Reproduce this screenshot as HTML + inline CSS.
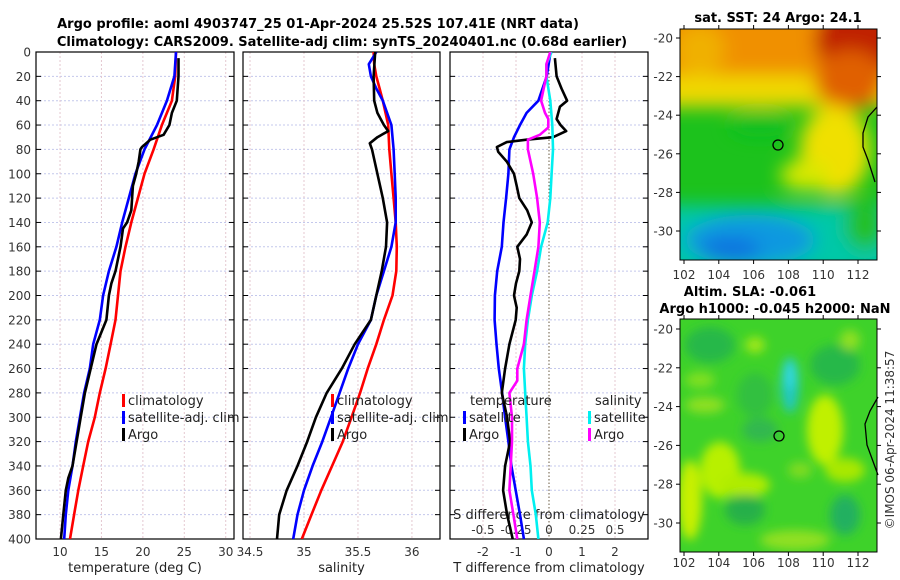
<!DOCTYPE html>
<html><head><meta charset="utf-8"><style>
body{margin:0;background:#fff;}
svg{display:block;font-family:"DejaVu Sans","Liberation Sans",sans-serif;}
.tk{font-size:12px;fill:#333;}
.tt{font-size:13px;font-weight:bold;fill:#000;}
.lg{font-size:13px;fill:#222;}
</style></head><body>
<svg id="chart" width="900" height="580" viewBox="0 0 900 580" xmlns="http://www.w3.org/2000/svg">
<defs>
<clipPath id="c1"><rect x="36" y="52" width="198" height="487"/></clipPath>
<clipPath id="c2"><rect x="243" y="52" width="197" height="487"/></clipPath>
<clipPath id="c3"><rect x="450" y="52" width="198" height="487"/></clipPath>
<clipPath id="m1"><rect x="680" y="29" width="197" height="231"/></clipPath>
<clipPath id="m2"><rect x="680" y="319" width="197" height="233"/></clipPath>
<filter id="bl" x="-50%" y="-50%" width="200%" height="200%"><feGaussianBlur stdDeviation="9"/></filter>
<filter id="bl2" x="-50%" y="-50%" width="200%" height="200%"><feGaussianBlur stdDeviation="5"/></filter>
</defs>
<text class="tt" x="318" y="28" text-anchor="middle">Argo profile: aoml 4903747_25 01-Apr-2024 25.52S 107.41E (NRT data)</text>
<text class="tt" x="342" y="46" text-anchor="middle">Climatology: CARS2009. Satellite-adj clim: synTS_20240401.nc (0.68d earlier)</text>
<g id="panels"></g>

<!-- Map 1: SST -->
<g>
<g clip-path="url(#m1)">
<rect x="680" y="29" width="197" height="231" fill="#1cc21c"/>
<g filter="url(#bl)">
<rect x="660" y="10" width="240" height="70" fill="#f09000"/>
<rect x="660" y="75" width="240" height="32" fill="#f0d800"/>
<ellipse cx="700" cy="50" rx="25" ry="25" fill="#f0b000"/>
<ellipse cx="860" cy="40" rx="45" ry="40" fill="#c02000"/>
<ellipse cx="850" cy="80" rx="35" ry="30" fill="#e06000"/>
<ellipse cx="835" cy="150" rx="35" ry="45" fill="#f0e000"/>
<ellipse cx="805" cy="175" rx="25" ry="15" fill="#d8e800"/>
<ellipse cx="760" cy="125" rx="30" ry="12" fill="#10c020"/>
<rect x="660" y="205" width="240" height="70" fill="#00c8a8"/>
<ellipse cx="750" cy="240" rx="65" ry="25" fill="#1098e0"/>
<ellipse cx="730" cy="250" rx="30" ry="12" fill="#1070e0"/>
<ellipse cx="865" cy="225" rx="20" ry="25" fill="#20c020"/>
</g>
</g>
<rect x="680" y="29" width="197" height="231" fill="none" stroke="#000" stroke-width="1"/>
<path d="M877,107 L868,117 L863,133 L863,147 L868,160 L875,182" fill="none" stroke="#000" stroke-width="1.3"/>
<circle cx="778" cy="145" r="5" fill="none" stroke="#000" stroke-width="1.3"/>
<text class="tt" x="778" y="22" text-anchor="middle">sat. SST: 24 Argo: 24.1</text>
<g id="map1axes"></g>
</g>

<!-- Map 2: SLA -->
<g>
<g clip-path="url(#m2)">
<rect x="680" y="319" width="197" height="233" fill="#3ed22a"/>
<g filter="url(#bl2)">
<ellipse cx="710" cy="345" rx="25" ry="18" fill="#28b848"/>
<ellipse cx="755" cy="395" rx="18" ry="22" fill="#30c040"/>
<ellipse cx="790" cy="385" rx="9" ry="28" fill="#20c8c0"/>
<ellipse cx="790" cy="375" rx="6" ry="14" fill="#30d8e0"/>
<ellipse cx="835" cy="365" rx="25" ry="20" fill="#28b848"/>
<ellipse cx="755" cy="345" rx="10" ry="8" fill="#a0e818"/>
<ellipse cx="705" cy="405" rx="20" ry="8" fill="#90e020"/>
<ellipse cx="720" cy="470" rx="20" ry="28" fill="#b8f000"/>
<ellipse cx="745" cy="485" rx="25" ry="12" fill="#b0ec00"/>
<ellipse cx="690" cy="500" rx="12" ry="40" fill="#c8f000"/>
<ellipse cx="745" cy="510" rx="20" ry="15" fill="#28b048"/>
<ellipse cx="825" cy="430" rx="18" ry="35" fill="#c0f000"/>
<ellipse cx="845" cy="470" rx="20" ry="12" fill="#a8e800"/>
<ellipse cx="845" cy="515" rx="15" ry="20" fill="#20b060"/>
<ellipse cx="795" cy="540" rx="35" ry="10" fill="#90e020"/>
<ellipse cx="760" cy="430" rx="18" ry="12" fill="#30b850"/>
<ellipse cx="850" cy="340" rx="10" ry="10" fill="#90e020"/>
<ellipse cx="700" cy="380" rx="15" ry="8" fill="#80e020"/>
<ellipse cx="800" cy="470" rx="12" ry="8" fill="#80dc20"/>
</g>
</g>
<rect x="680" y="319" width="197" height="233" fill="none" stroke="#000" stroke-width="1"/>
<path d="M878,397 L870,411 L865,424 L867,445 L878,475" fill="none" stroke="#000" stroke-width="1.3"/>
<circle cx="779" cy="436" r="5" fill="none" stroke="#000" stroke-width="1.3"/>
<text class="tt" x="750" y="296" text-anchor="middle">Altim. SLA: -0.061</text>
<text class="tt" x="775" y="313" text-anchor="middle">Argo h1000: -0.045 h2000: NaN</text>
<g id="map2axes"></g>
</g>
<text class="tk" transform="translate(894,440) rotate(-90)" text-anchor="middle">©IMOS 06-Apr-2024 11:38:57</text>
</svg>
<script>
// ---- data (depth in m) ----
const depthTC=[0,20,40,60,80,100,120,140,160,180,200,220,240,260,280,300,320,340,360,380,400];
const tempClim=[24.0,23.9,23.5,22.3,21.3,20.2,19.4,18.6,17.9,17.3,17.0,16.7,16.1,15.5,14.8,14.2,13.4,12.8,12.2,11.7,11.2];
const tempSat=[24.0,23.8,22.9,21.7,20.2,19.1,18.3,17.5,16.8,15.9,15.2,14.8,14.0,13.6,12.9,12.4,11.9,11.5,11.0,10.7,10.5];
const depthTA=[5,20,40,50,60,68,72,78,80,90,100,110,120,130,140,145,160,180,190,200,220,240,260,280,300,320,340,350,360,380,400];
const tempArgo=[24.3,24.3,24.1,23.5,23.2,22.5,20.9,19.9,19.7,19.5,19.2,18.8,18.7,18.6,18.1,17.6,17.3,16.7,16.2,15.9,15.6,14.4,13.7,13.0,12.5,12.0,11.5,11.0,10.7,10.4,10.1];
const depthS=[0,10,20,30,40,60,80,100,120,140,160,180,200,220,240,260,280,300,320,340,360,380,400];
const salClim=[35.645,35.65,35.67,35.70,35.73,35.78,35.79,35.81,35.83,35.85,35.86,35.855,35.82,35.74,35.67,35.59,35.52,35.44,35.36,35.26,35.16,35.07,34.98];
const salSat=[35.67,35.60,35.62,35.67,35.73,35.81,35.83,35.84,35.85,35.85,35.81,35.74,35.67,35.62,35.50,35.41,35.33,35.25,35.17,35.08,35.0,34.94,34.9];
const depthSA=[0,20,40,50,60,65,70,75,80,100,120,140,160,180,200,220,240,260,280,300,320,340,360,380,400];
const salArgo=[35.66,35.645,35.65,35.68,35.74,35.78,35.68,35.61,35.63,35.68,35.73,35.77,35.76,35.72,35.67,35.62,35.47,35.35,35.21,35.11,35.03,34.94,34.84,34.77,34.75];
const depthD=[0,20,40,50,60,70,80,100,120,140,160,180,200,220,240,260,280,300,320,340,360,380,400];
const dTSat=[0.05,-0.07,-0.32,-0.68,-0.88,-1.06,-1.2,-1.23,-1.3,-1.38,-1.43,-1.57,-1.64,-1.65,-1.59,-1.52,-1.42,-1.33,-1.23,-1.14,-1.01,-0.88,-0.76];
const depthDA=[5,20,30,40,45,55,60,65,70,72,74,78,82,90,100,110,120,130,140,150,160,170,180,190,200,210,220,240,260,280,300,320,340,360,380,400];
const dTArgo=[0.18,0.23,0.38,0.55,0.33,0.23,0.35,0.52,0.12,-0.68,-1.28,-1.58,-1.54,-1.28,-1.06,-0.98,-0.9,-0.66,-0.52,-0.68,-0.96,-0.88,-0.9,-1.0,-1.06,-0.98,-1.01,-1.2,-1.33,-1.43,-1.27,-1.18,-1.33,-1.39,-1.27,-1.1];
const depthDS=[0,10,20,40,60,80,100,120,140,160,180,200,220,240,260,280,300,320,340,360,380,400];
const dSSat=[0.02,-0.02,-0.02,0.01,0.025,0.03,0.02,0.01,-0.01,-0.06,-0.09,-0.13,-0.16,-0.18,-0.19,-0.18,-0.17,-0.16,-0.14,-0.13,-0.10,-0.08];
const depthDSA=[0,10,20,30,40,50,55,62,68,72,80,100,120,140,160,180,200,220,240,260,270,280,300,320,340,360,380,400];
const dSArgo=[0.01,-0.02,-0.02,-0.04,-0.06,-0.03,-0.005,-0.005,-0.07,-0.16,-0.16,-0.12,-0.09,-0.07,-0.08,-0.11,-0.14,-0.17,-0.19,-0.24,-0.24,-0.30,-0.28,-0.28,-0.29,-0.30,-0.27,-0.24];
const depthTicks=[0,20,40,60,80,100,120,140,160,180,200,220,240,260,280,300,320,340,360,380,400];
const tempTicks=[10,15,20,25,30];
const salTicks=[34.5,35,35.5,36];
const dTTicks=[-2,-1,0,1,2];
const dSTicks=[-0.5,-0.25,0,0.25,0.5];
const lonTicks=[102,104,106,108,110,112];
const latTicks=[-20,-22,-24,-26,-28,-30];

const NS='http://www.w3.org/2000/svg';
function mk(tag,attrs,parent){const e=document.createElementNS(NS,tag);for(const k in attrs)e.setAttribute(k,attrs[k]);parent.appendChild(e);return e;}
const Y=d=>52+d*487/400;
const root=document.getElementById('panels');
const panels=[
 {name:'temperature-panel',x0:36,x1:234,vmin:7.1,vmax:31.0,ticks:tempTicks,clip:'c1',title:'temperature (deg C)'},
 {name:'salinity-panel',x0:243,x1:440,vmin:34.435,vmax:36.26,ticks:salTicks,clip:'c2',title:'salinity'},
 {name:'difference-panel',x0:450,x1:648,vmin:-3,vmax:3,ticks:dTTicks,clip:'c3',title:'T difference from climatology'}
];
panels.forEach((p,i)=>{
 p.X=v=>p.x0+(v-p.vmin)/(p.vmax-p.vmin)*(p.x1-p.x0);
 const g=mk('g',{},root);
 
 
 p.g=g;
 depthTicks.forEach(d=>{
  const l=mk('line',{x1:p.x0,x2:p.x1,y1:Y(d),y2:Y(d),stroke:'#c4c8ec','stroke-width':1,'stroke-dasharray':'2,2'},g);
  
  
  mk('line',{x1:p.x0,x2:p.x0+5,y1:Y(d),y2:Y(d),stroke:'#000'},g);
  mk('line',{x1:p.x1-5,x2:p.x1,y1:Y(d),y2:Y(d),stroke:'#000'},g);
 });
 p.ticks.forEach(v=>{
  const x=p.X(v);
  if(!(i==2&&v==0)){
   const l=mk('line',{x1:x,x2:x,y1:52,y2:539,stroke:'#e4c8d0','stroke-width':1,'stroke-dasharray':'2,2'},g);
   
   
  }
  const t=mk('text',{x:x,y:556,'text-anchor':'middle',class:'tk'},g);
  t.textContent=v;
  
  
 });
 mk('rect',{x:p.x0,y:52,width:p.x1-p.x0,height:487,fill:'none',stroke:'#000','stroke-width':1.2},g);
 const at=mk('text',{x:(p.x0+p.x1)/2,y:572,'text-anchor':'middle',class:'lg'},g);
 at.textContent=p.title;
 
 
});
depthTicks.forEach(d=>{
 const t=mk('text',{x:31,y:Y(d)+4.5,'text-anchor':'end',class:'tk'},root);
 t.textContent=d;
 
 
});
const zl=mk('line',{x1:panels[2].X(0),x2:panels[2].X(0),y1:52,y2:539,stroke:'#6a5a40','stroke-width':1,'stroke-dasharray':'1.5,2'},panels[2].g);


const XS=v=>panels[2].X(v*4);
dSTicks.forEach(v=>{
 const t=mk('text',{x:XS(v),y:534,'text-anchor':'middle',class:'tk'},panels[2].g);
 t.textContent=v;
 
 
});
const sdt=mk('text',{x:549,y:519,'text-anchor':'middle',class:'lg'},panels[2].g);
sdt.textContent='S difference from climatology';



function line(p,X,vals,deps,color,name){
 const pts=vals.map((v,k)=>X(v).toFixed(1)+','+Y(deps[k]).toFixed(1)).join(' ');
 const el=mk('polyline',{points:pts,fill:'none',stroke:color,'stroke-width':2.6,'stroke-linejoin':'round','clip-path':'url(#'+p.clip+')'},p.g);
 
 
}
const P1=panels[0],P2=panels[1],P3=panels[2];
line(P1,P1.X,tempClim,depthTC,'#f00','temp-climatology-line');
line(P1,P1.X,tempSat,depthTC,'#00f','temp-satellite-line');
line(P1,P1.X,tempArgo,depthTA,'#000','temp-argo-line');
line(P2,P2.X,salClim,depthS,'#f00','sal-climatology-line');
line(P2,P2.X,salSat,depthS,'#00f','sal-satellite-line');
line(P2,P2.X,salArgo,depthSA,'#000','sal-argo-line');
line(P3,P3.X,dTSat,depthD,'#00f','dT-satellite-line');
line(P3,P3.X,dTArgo,depthDA,'#000','dT-argo-line');
line(P3,XS,dSSat,depthDS,'#00f0f0','dS-satellite-line');
line(P3,XS,dSArgo,depthDSA,'#f0f','dS-argo-line');

function legend(g,x,y,color,label){
 const m=mk('rect',{x:x,y:y-11,width:3,height:13,fill:color},g);
 
 
 const t=mk('text',{x:x+6,y:y,class:'lg'},g);
 t.textContent=label;
 
 
}
legend(P1.g,122,405,'#f00','climatology');
legend(P1.g,122,422,'#00f','satellite-adj. clim');
legend(P1.g,122,439,'#000','Argo');
legend(P2.g,331,405,'#f00','climatology');
legend(P2.g,331,422,'#00f','satellite-adj. clim');
legend(P2.g,331,439,'#000','Argo');
const lt=mk('text',{x:470,y:405,class:'lg'},P3.g);lt.textContent='temperature';


const ls=mk('text',{x:595,y:405,class:'lg'},P3.g);ls.textContent='salinity';


legend(P3.g,463,422,'#00f','satellite');
legend(P3.g,463,439,'#000','Argo');
legend(P3.g,588,422,'#00f0f0','satellite');
legend(P3.g,588,439,'#f0f','Argo');

function mapAxes(id,top,bot,lat20y,lat30y,lonY){
 const g=document.getElementById(id);
 const LX=lon=>684+(lon-102)*17.4;
 const LY=lat=>lat20y+(-20-lat)*(lat30y-lat20y)/10;
 lonTicks.forEach(l=>{
  mk('line',{x1:LX(l),x2:LX(l),y1:top,y2:top-4,stroke:'#000'},g);
  mk('line',{x1:LX(l),x2:LX(l),y1:bot,y2:bot+4,stroke:'#000'},g);
  const t=mk('text',{x:LX(l),y:lonY,'text-anchor':'middle',class:'tk'},g);
  t.textContent=l;
  
  
 });
 latTicks.forEach(l=>{
  mk('line',{x1:680,x2:676,y1:LY(l),y2:LY(l),stroke:'#000'},g);
  mk('line',{x1:877,x2:881,y1:LY(l),y2:LY(l),stroke:'#000'},g);
  const t=mk('text',{x:673,y:LY(l)+4.5,'text-anchor':'end',class:'tk'},g);
  t.textContent=l;
  
  
 });
}
mapAxes('map1axes',29,260,38,231,279);
mapAxes('map2axes',319,552,329,523,567);
</script>
</body></html>
